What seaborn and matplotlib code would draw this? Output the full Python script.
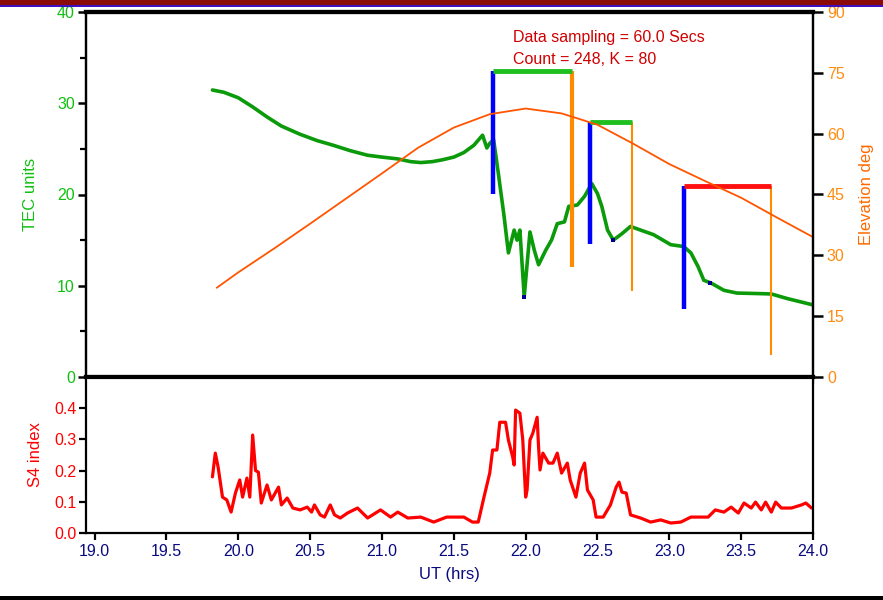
import numpy as np
import pandas as pd
import matplotlib
matplotlib.use("Agg")
import matplotlib.pyplot as plt
from matplotlib.patches import Rectangle
from matplotlib.ticker import MultipleLocator
import seaborn as sns

# ---------------- data ----------------
tec_t = [19.82, 19.90, 20.00, 20.10, 20.20, 20.30, 20.43, 20.55, 20.66, 20.78, 20.90, 21.00,
         21.11, 21.20, 21.27, 21.35, 21.42, 21.50, 21.57, 21.64, 21.70, 21.73, 21.75, 21.777,
         21.81, 21.85, 21.88, 21.92, 21.94, 21.96, 21.99, 22.03, 22.06, 22.09, 22.14, 22.18,
         22.22, 22.27, 22.30, 22.36, 22.41, 22.46, 22.50, 22.53, 22.57, 22.61, 22.67, 22.73,
         22.80, 22.89, 23.01, 23.10, 23.15, 23.20, 23.24, 23.29, 23.38, 23.47, 23.60, 23.71,
         23.82, 24.00]
tec_v = [31.45, 31.2, 30.6, 29.6, 28.5, 27.5, 26.6, 25.9, 25.4, 24.8, 24.3, 24.1,
         23.9, 23.6, 23.5, 23.6, 23.8, 24.1, 24.6, 25.4, 26.5, 25.1, 25.6, 26.0,
         22.3, 17.6, 13.6, 16.1, 15.0, 16.1, 8.8, 15.9, 13.9, 12.3, 13.9, 15.0,
         16.8, 17.0, 18.7, 18.85, 19.8, 21.2, 20.1, 18.7, 16.1, 15.0, 15.7, 16.5,
         16.1, 15.6, 14.5, 14.3, 13.6, 12.1, 10.6, 10.3, 9.5, 9.2, 9.15, 9.1,
         8.6, 7.9]

elev_t = [19.85, 20.00, 20.25, 20.50, 20.75, 21.00, 21.25, 21.50, 21.75, 22.00, 22.25,
          22.50, 22.75, 23.00, 23.25, 23.50, 23.75, 24.00]
elev_v = [22.0, 25.8, 31.7, 37.8, 44.0, 50.2, 56.5, 61.5, 64.8, 66.2, 65.0,
          62.2, 57.5, 52.5, 48.3, 44.2, 39.3, 34.5]

s4_t = [19.82, 19.84, 19.86, 19.89, 19.92, 19.95, 19.98, 20.01, 20.03, 20.06, 20.08, 20.10,
        20.12, 20.14, 20.16, 20.20, 20.23, 20.28, 20.30, 20.34, 20.38, 20.43, 20.48, 20.51,
        20.53, 20.57, 20.60, 20.64, 20.67, 20.71, 20.76, 20.83, 20.90, 20.99, 21.06, 21.11,
        21.18, 21.27, 21.36, 21.45, 21.57, 21.63, 21.67, 21.71, 21.75, 21.77, 21.80, 21.82,
        21.86, 21.88, 21.91, 21.92, 21.93, 21.96, 21.98, 22.00, 22.01, 22.03, 22.05, 22.08,
        22.09, 22.10, 22.12, 22.16, 22.19, 22.22, 22.25, 22.29, 22.31, 22.35, 22.38, 22.41,
        22.43, 22.47, 22.49, 22.54, 22.59, 22.63, 22.65, 22.67, 22.70, 22.73, 22.80, 22.87,
        22.94, 23.01, 23.08, 23.15, 23.27, 23.32, 23.38, 23.43, 23.48, 23.52, 23.57, 23.60,
        23.64, 23.67, 23.71, 23.74, 23.78, 23.85, 23.92, 23.95, 23.99]
s4_v = [0.18, 0.256, 0.21, 0.115, 0.106, 0.067, 0.128, 0.17, 0.115, 0.176, 0.115, 0.314,
        0.20, 0.195, 0.096, 0.154, 0.106, 0.147, 0.09, 0.112, 0.08, 0.074, 0.083, 0.067,
        0.09, 0.058, 0.051, 0.09, 0.058, 0.048, 0.064, 0.08, 0.048, 0.074, 0.051, 0.067,
        0.048, 0.051, 0.035, 0.051, 0.051, 0.035, 0.035, 0.115, 0.192, 0.266, 0.266, 0.355,
        0.355, 0.298, 0.243, 0.218, 0.394, 0.384, 0.298, 0.115, 0.138, 0.298, 0.32, 0.371,
        0.275, 0.202, 0.256, 0.224, 0.224, 0.256, 0.192, 0.224, 0.17, 0.115, 0.192, 0.224,
        0.138, 0.106, 0.051, 0.051, 0.09, 0.147, 0.163, 0.131, 0.128, 0.058, 0.048, 0.035,
        0.042, 0.032, 0.035, 0.051, 0.051, 0.074, 0.067, 0.083, 0.064, 0.096, 0.08, 0.099,
        0.074, 0.099, 0.067, 0.099, 0.08, 0.08, 0.09, 0.096, 0.08]

# event markers
ev_start = [21.77, 22.45, 23.10]
ev_end = [22.32, 22.74, 23.71]
ev_top = [33.5, 27.9, 20.9]
ev_blue_bottom = [20.1, 14.6, 7.5]
ev_orange_bottom = [12.1, 9.4, 2.4]
ev_bar_color = ["#1fbf1f", "#1fbf1f", "#ff1010"]
ev_orange_width = [3.0, 1.5, 1.5]

dot_t = [21.99, 22.61, 23.28]
dot_v = [8.8, 15.0, 10.3]

x_ticks = [19.0, 19.5, 20.0, 20.5, 21.0, 21.5, 22.0, 22.5, 23.0, 23.5, 24.0]
tec_ticks = [0, 10, 20, 30, 40]
elev_ticks = [0, 15, 30, 45, 60, 75, 90]
s4_ticks = [0.0, 0.1, 0.2, 0.3, 0.4]

# ---------------- style ----------------
sns.set_theme(style="white")
plt.rcParams["font.family"] = ["Liberation Sans Narrow", "Liberation Sans", "DejaVu Sans"]

NAVY = "#0a0a80"
GREEN_TXT = "#10c010"
GREEN_LINE = "#0a9a0a"
ORANGE = "#ff8c00"
ORANGE_TXT = "#ff8c10"
ELEV_LINE = "#ff5500"
RED = "#ff0000"

fig = plt.figure(figsize=(8.83, 6.0), dpi=100)
fig.patch.set_facecolor("white")

W, H = 883.0, 600.0
left, right = 86 / W, 813 / W
ax1 = fig.add_axes([left, 1 - 377 / H, right - left, 365 / H])
ax3 = fig.add_axes([left, 1 - 533 / H, right - left, 156 / H], sharex=ax1)
ax2 = ax1.twinx()

df_tec = pd.DataFrame({"t": tec_t, "v": tec_v})
df_el = pd.DataFrame({"t": elev_t, "v": elev_v})
df_s4 = pd.DataFrame({"t": s4_t, "v": s4_v})

sns.lineplot(data=df_el, x="t", y="v", ax=ax2, color=ELEV_LINE, lw=1.3, sort=False)
sns.lineplot(data=df_tec, x="t", y="v", ax=ax1, color=GREEN_LINE, lw=2.6, sort=False)
sns.lineplot(data=df_s4, x="t", y="v", ax=ax3, color=RED, lw=2.3, sort=False)

for s, e, top, bb, ob, bc, ow in zip(ev_start, ev_end, ev_top, ev_blue_bottom,
                                     ev_orange_bottom, ev_bar_color, ev_orange_width):
    ax1.plot([s, s], [bb, top], color="#0000ff", lw=3.2, solid_capstyle="butt", zorder=4)
    ax1.plot([e, e], [ob, top], color=ORANGE, lw=ow, solid_capstyle="butt", zorder=4)
    ax1.plot([s, e], [top, top], color=bc, lw=3.5, solid_capstyle="butt", zorder=5)

ax1.scatter(dot_t, dot_v, s=6, marker="s", color="#000090", zorder=6, linewidths=0)

# ---------------- axes ----------------
ax1.set_xlim(18.94, 24.0)
ax1.set_ylim(0, 40)
ax2.set_ylim(0, 90)
ax3.set_ylim(0, 0.5)

ax1.set_yticks(tec_ticks)
ax1.yaxis.set_minor_locator(MultipleLocator(5))
ax2.set_yticks(elev_ticks)
ax3.set_yticks(s4_ticks)
ax3.set_xticks(x_ticks)
ax3.set_xticklabels([f"{v:.1f}" for v in x_ticks])

for ax in (ax1, ax2, ax3):
    ax.set_xlabel("")
    ax.set_ylabel("")
    ax.grid(False)
    for sp in ax.spines.values():
        sp.set_color("black")
        sp.set_linewidth(1.6)

ax1.spines["top"].set_linewidth(3.0)
ax1.spines["bottom"].set_linewidth(3.0)
ax2.spines["top"].set_linewidth(3.0)
ax2.spines["bottom"].set_linewidth(3.0)
ax3.spines["top"].set_linewidth(1.5)

fs = 11.5
ax1.tick_params(axis="y", which="major", direction="out", length=6, width=1.8,
                colors="black", labelcolor=GREEN_TXT, labelsize=fs, pad=2, left=True)
ax1.tick_params(axis="y", which="minor", direction="out", length=4, width=1.6,
                colors="black", left=True)
ax1.tick_params(axis="x", which="major", direction="out", length=5, width=1.6,
                bottom=True, labelbottom=False, colors="black")
ax2.tick_params(axis="y", which="major", direction="out", length=7, width=1.8,
                colors="black", labelcolor=ORANGE_TXT, labelsize=fs, pad=3, right=True)
ax3.tick_params(axis="y", which="major", direction="out", length=5, width=1.6,
                colors="black", labelcolor=RED, labelsize=fs, pad=2, left=True)
ax3.tick_params(axis="x", which="major", direction="out", length=5, width=1.6,
                colors="black", labelcolor=NAVY, labelsize=fs, pad=3, bottom=True)
ax3.set_yticklabels([f"{v:.1f}" for v in s4_ticks])

ax1.set_ylabel("TEC units", color=GREEN_TXT, fontsize=12, labelpad=14)
ax2.set_ylabel("Elevation deg", color="#ff6a00", fontsize=12, labelpad=10)
ax3.set_ylabel("S4 index", color=RED, fontsize=12, labelpad=8)
ax3.set_xlabel("UT (hrs)", color=NAVY, fontsize=12, labelpad=6)

ax1.text(0.587, 0.930, "Data sampling = 60.0 Secs", transform=ax1.transAxes,
         color="#d00000", fontsize=11.5, ha="left", va="center")
ax1.text(0.587, 0.870, "Count = 248, K = 80", transform=ax1.transAxes,
         color="#d00000", fontsize=11.5, ha="left", va="center")

# decorative frame strips
fig.patches.append(Rectangle((0, 1 - 5 / H), 1, 5 / H, transform=fig.transFigure,
                             facecolor="#8a0a0a", edgecolor="none", zorder=0))
fig.patches.append(Rectangle((0, 1 - 7 / H), 1, 2 / H, transform=fig.transFigure,
                             facecolor="#3a10c0", edgecolor="none", zorder=0))
fig.patches.append(Rectangle((0, 0), 1, 4 / H, transform=fig.transFigure,
                             facecolor="black", edgecolor="none", zorder=0))

fig.savefig("out.png", dpi=100, facecolor="white")
